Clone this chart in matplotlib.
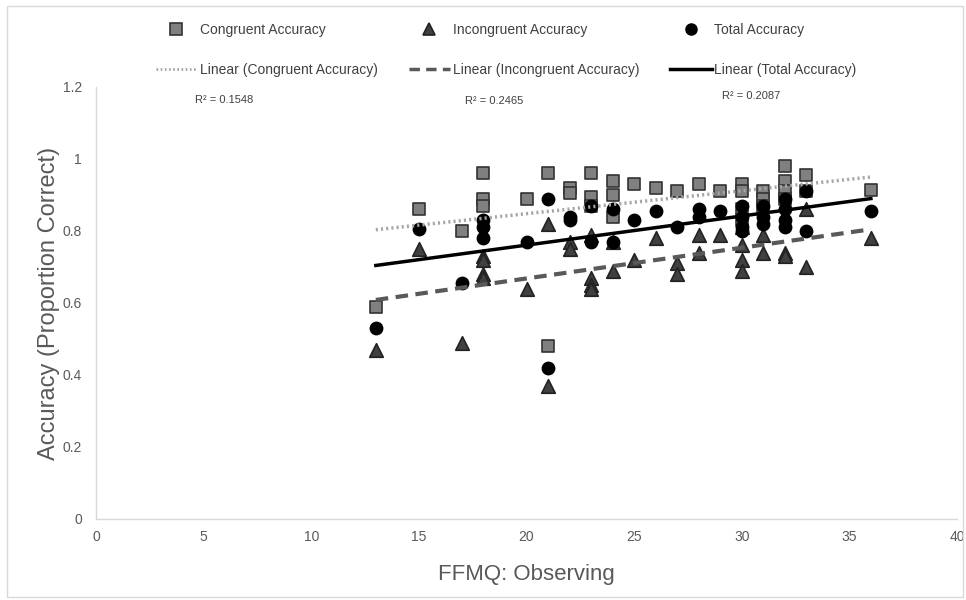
import numpy as np
import matplotlib.pyplot as plt
from matplotlib.lines import Line2D
from matplotlib.patches import Rectangle

plt.rcParams['font.family'] = ['Liberation Sans', 'DejaVu Sans']

# congruent accuracy (squares)
cong_x = [13, 15, 17, 18, 18, 18, 20, 21, 21, 22, 22, 23, 23, 23, 24, 24, 24,
          25, 26, 27, 28, 29, 30, 30, 30, 30, 31, 31, 31, 32, 32, 32, 32, 33, 33, 36]
cong_y = [0.59, 0.86, 0.80, 0.96, 0.89, 0.87, 0.89, 0.96, 0.48, 0.92, 0.905, 0.96, 0.895, 0.87,
          0.94, 0.90, 0.84, 0.93, 0.92, 0.91, 0.93, 0.91, 0.93, 0.91, 0.86, 0.83, 0.91, 0.89, 0.87,
          0.98, 0.94, 0.91, 0.89, 0.955, 0.91, 0.915]

# incongruent accuracy (triangles)
inc_x = [13, 15, 17, 18, 18, 18, 18, 20, 21, 21, 22, 22, 23, 23, 23, 23, 24, 24,
         25, 26, 27, 27, 28, 28, 29, 30, 30, 30, 30, 31, 31, 32, 32, 33, 33, 36]
inc_y = [0.47, 0.75, 0.49, 0.73, 0.72, 0.68, 0.67, 0.64, 0.82, 0.37, 0.77, 0.75, 0.79, 0.67,
         0.65, 0.64, 0.77, 0.69, 0.72, 0.78, 0.71, 0.68, 0.79, 0.74, 0.79, 0.81, 0.76, 0.72,
         0.69, 0.79, 0.74, 0.74, 0.73, 0.86, 0.70, 0.78]

# total accuracy (circles)
tot_x = [13, 15, 17, 18, 18, 18, 20, 21, 21, 22, 22, 23, 23, 24, 24, 25, 26, 27,
         28, 28, 29, 30, 30, 30, 30, 31, 31, 31, 32, 32, 32, 32, 33, 33, 36]
tot_y = [0.53, 0.805, 0.655, 0.83, 0.81, 0.78, 0.77, 0.89, 0.42, 0.84, 0.83, 0.87, 0.77, 0.86,
         0.77, 0.83, 0.855, 0.81, 0.86, 0.84, 0.855, 0.87, 0.84, 0.81, 0.80, 0.87, 0.84, 0.82,
         0.89, 0.86, 0.83, 0.81, 0.91, 0.80, 0.855]

r2_labels = ['R² = 0.1548', 'R² = 0.2465', 'R² = 0.2087']

fig = plt.figure(figsize=(9.66, 6), dpi=100)
ax = fig.add_axes([96/966, 1-519/600, (957-96)/966, (519-87)/600])

ax.scatter(cong_x, cong_y, marker='s', s=80, c='#808080', edgecolors='#333333', linewidths=1.2, zorder=3)
ax.scatter(inc_x, inc_y, marker='^', s=95, c='#404040', edgecolors='#222222', linewidths=1.2, zorder=3)
ax.scatter(tot_x, tot_y, marker='o', s=80, c='black', edgecolors='black', zorder=3)

xs = np.array([13, 36])
trend_styles = [
    (cong_x, cong_y, dict(color='#a6a6a6', lw=2.5, ls=(0, (0.6, 0.9)))),
    (inc_x, inc_y, dict(color='#595959', lw=3, ls=(0, (3, 1.8)))),
    (tot_x, tot_y, dict(color='black', lw=2.5, ls='-')),
]
for x, y, st in trend_styles:
    k, b = np.polyfit(x, y, 1)
    ax.plot(xs, k * xs + b, zorder=4, **st)

ax.set_xlim(0, 40)
ax.set_ylim(0, 1.2)
ax.set_xticks(range(0, 41, 5))
ax.set_yticks([0, 0.2, 0.4, 0.6, 0.8, 1, 1.2])
ax.set_yticklabels(['0', '0.2', '0.4', '0.6', '0.8', '1', '1.2'])
ax.tick_params(length=0, labelsize=10, colors='#595959')
ax.tick_params(axis='x', pad=8)
ax.tick_params(axis='y', pad=10)
for s in ['top', 'right']:
    ax.spines[s].set_visible(False)
for s in ['left', 'bottom']:
    ax.spines[s].set_color('#d9d9d9')
    ax.spines[s].set_linewidth(1)

ax.set_xlabel('FFMQ: Observing', fontsize=16, color='#595959', labelpad=14)
ax.set_ylabel('Accuracy (Proportion Correct)', fontsize=17, color='#595959', labelpad=2)

# R² labels
fig.text(195/966, 1-100/600, r2_labels[0], fontsize=8, color='#404040', va='center')
fig.text(465/966, 1-101/600, r2_labels[1], fontsize=8, color='#404040', va='center')
fig.text(722/966, 1-96/600, r2_labels[2], fontsize=8, color='#404040', va='center')

handles = [
    Line2D([], [], marker='s', ls='none', ms=8, mfc='#808080', mec='#333333', mew=1.2),
    Line2D([], [], color='#a6a6a6', lw=2, ls=(0, (0.6, 0.9))),
    Line2D([], [], marker='^', ls='none', ms=9, mfc='#404040', mec='#222222', mew=1.2),
    Line2D([], [], color='#595959', lw=2.5, ls=(0, (3, 1.8))),
    Line2D([], [], marker='o', ls='none', ms=8, mfc='black', mec='black'),
    Line2D([], [], color='black', lw=2.5),
]
labels = ['Congruent Accuracy', 'Linear (Congruent Accuracy)',
          'Incongruent Accuracy', 'Linear (Incongruent Accuracy)',
          'Total Accuracy', 'Linear (Total Accuracy)']
leg = fig.legend(handles, labels, ncol=3, loc='center', bbox_to_anchor=(0.524, 1-50/600),
                 frameon=False, fontsize=10, handlelength=3, handletextpad=0.2,
                 columnspacing=2.2, labelspacing=1.85, numpoints=1)
for t in leg.get_texts():
    t.set_color('#404040')

fig.patches.append(Rectangle((0.007, 0.005), 0.99, 0.985, transform=fig.transFigure,
                             fill=False, edgecolor='#d9d9d9', lw=1))

fig.savefig('out.png', dpi=100)
